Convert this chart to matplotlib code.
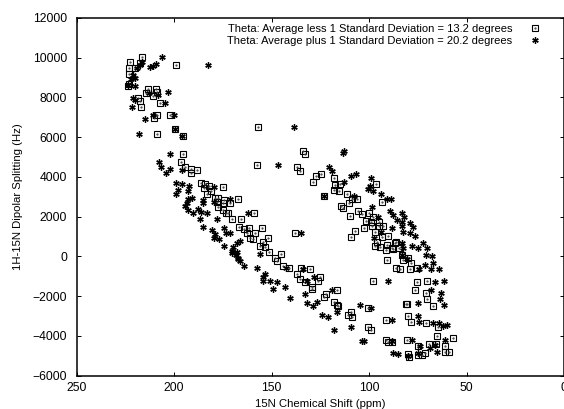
import matplotlib
matplotlib.use('Agg')
import matplotlib.pyplot as plt
from matplotlib.legend_handler import HandlerTuple

plt.rcParams['font.family'] = ['Liberation Sans', 'DejaVu Sans']

legend_low = 'Theta: Average less 1 Standard Deviation = 13.2 degrees'
legend_high = 'Theta: Average plus 1 Standard Deviation = 20.2 degrees'
x_ticks = [250, 200, 150, 100, 50, 0]
y_ticks = [-6000, -4000, -2000, 0, 2000, 4000, 6000, 8000, 10000, 12000]

# squares first
low_shift = [216.6, 222.6, 198.9, 223.1, 223.1, 220, 217.5, 213.2, 214.4, 209.3, 208.9, 211, 218.5, 217.5, 217,
             207.4, 208.6, 202.1, 210.5, 199.5, 208.8, 195.6, 157, 223.1, 223.5,
             195.4, 196.5, 194.4, 191.5, 191.5, 188.3, 186.2, 184.2, 182.1, 184.8, 181.1, 183.1, 174.8, 167.2,
             179, 177.3, 174.3, 171.2, 178.2, 174.8, 177.3, 174.8, 172.2, 173.4, 170.2, 165.7, 158.9, 157.3,
             166.6, 164, 161.4, 162.8, 158.5, 161.1, 159.4, 156,
             133.7, 132.7, 136.8, 135.6, 124.8, 127.2, 128.8, 123.1, 154.8, 138.2, 152,
             145.2, 154.3, 153.4, 151.2, 148.3, 147.1, 144, 141.1, 135, 130.2, 137.1, 135.4, 132.9, 129.1, 129.4,
             125.2, 126.1, 122.3, 123.1, 116.6, 118, 116.3,
             118, 114.9, 117.5, 118, 115.3, 111.5, 96.5, 93.4, 106.4, 108.9, 110.2, 114.4, 113.5, 105.5, 103.6,
             110, 99.9, 98.2, 101.7, 99, 94.9, 94.8, 93, 98.4, 102.5, 107.1, 109.5, 97, 90.5, 93.2, 96.1, 97, 91,
             86.4, 88.1, 84.7, 94.4,
             98.2, 75.6, 70.5, 76.5, 70.8, 70.3, 67.2, 81.2, 80.4, 91, 91.3, 87.9, 86.7, 83.3, 79.9, 86.2, 84.2,
             79, 78.7, 82.5, 75.6, 115.9, 109.3, 110.7, 108.6, 100.7, 100.7, 99, 91.3, 80, 78.5, 70.8, 64.5, 65,
             57.1, 91.3, 90.2, 88.4, 80.4, 74.8, 69.1, 65.7, 61.2, 59, 80, 75.1, 71.4, 73, 79.3, 60.8]
low_split = [10045, 9778, 9642, 9475, 9188, 9475, 9727, 8432, 8230, 8432, 8296, 8079, 7993, 7842, 7540,
             7726, 7106, 7137, 6955, 6416, 6164, 6048, 6532, 8684, 8583,
             5156, 4753, 4516, 4385, 4183, 4350, 3694, 3629, 3543, 3427, 3291, 3125, 3478, 2888,
             2923, 2923, 2838, 2701, 2752, 2671, 2500, 2334, 2197, 2167, 1895, 1880, 2197, 4602,
             1492, 1361, 1441, 1159, 1159, 907, 857, 519,
             5307, 5156, 4516, 4314, 4148, 4047, 3760, 3054, 1426, 1174, 907,
             131, 736, 484, 232, -101, -222, -489, -605, -605, -640, -907, -1144, -1280, -1532, -1663,
             -1028, -1245, -1885, -2066, -1683, -2318, -2454,
             3961, 3659, 3594, 3342, 3306, 3125, 3644, 2722, 2873, 2873, 2701, 2535, 2449, 2298, 2132,
             2016, 2167, 1996, 1779, 1744, 1714, 1527, 1527, 1527, 1411, 1290, 958, 1210, 1038, 973, 706, 534, 570,
             736, 403, 403, 454,
             -1230, -1295, -1230, -1683, -1835, -2167, -2490, -2389, -2389, -186, 318, 368, 655, 66, -101, -575, -655,
             -655, -323, -186, -605, -2505, -2792, -2943, -3059, -2591, -3578, -3699, -3226, -3024, -3326, -3362, -3578, -4002,
             -4118, -4218, -4304, -4304, -4234, -4506, -4435, -4435, -4521, -4808, -4924, -4974, -4889, -4974, -5060, -4808]

high_shift = [206.2, 182.6, 209.4, 212.4, 211, 216.5, 217.5, 218.9, 221.2, 220, 222.3, 223.5, 220, 203.3, 208.1,
              212.7, 221.2, 220, 221.6, 204.8, 199.9, 210.7, 215.1, 199.5, 217.8, 195.8,
              202.3, 207.7, 206.9, 204.2, 202, 196.1, 198.9, 196.1, 192.5, 192.7, 198.2, 199.2, 190.7, 192.7, 193.5,
              194.4, 192.7, 190.5, 187.9, 186.4, 183.1, 185, 185, 186.7, 179.7, 179.4, 177.8, 171.2, 162, 185, 180.7,
              179, 179.4, 176.8, 174.4, 173.5, 171.2, 174.4, 169.6, 167.9, 166.2, 170.5, 168.3, 167.1,
              138.7, 146.6, 120.4, 123.1, 135,
              155.8, 170.2, 167.9, 167.1, 166.2, 164, 157.3, 153.4, 154.6, 154.6, 150.8, 147.1, 149.4, 143.3, 140.6,
              142.6, 134.1, 128.3, 132, 132.9, 131.9, 126.9, 129, 124.3, 121.2, 118, 118.9, 116.6,
              113.5, 113, 119.2, 109.4, 106.7, 112.7, 99, 99.5, 100.4, 97.9, 94, 91, 88.9, 107.8, 98.7, 89.5, 87.6,
              83.3, 82.1, 85.9, 83.3, 83.3, 79, 77.6, 88.3, 95.3, 82.8, 79, 76.5, 93.9, 97.5, 72.2, 78.2, 75.1, 83.3,
              70.5, 82.5,
              70.9, 67.9, 67.1, 71.4, 68.3, 64, 74.3, 80.4, 83.3, 90.5, 61.4, 66.4, 68.3, 63.3, 63.5, 61.4, 75.1,
              104.7, 99, 109.3, 75.1, 88.4, 74.4, 67.1, 64.2, 61.9, 59.9, 103.8, 102.5, 88.4, 78.2, 73.9, 61.1, 87.9,
              85, 66.2, 65.3, 74.8, 79.9, 68.8]
high_split = [10030, 9642, 9692, 9556, 9590, 9778, 9642, 9475, 9138, 9001, 8936, 8634, 8583, 8296, 8130,
              8245, 7993, 7878, 7540, 7726, 7137, 7106, 6935, 6416, 6164, 6048,
              5156, 4738, 4486, 4213, 4385, 4365, 3709, 3629, 3543, 3306, 3342, 3140, 2923, 2873, 2671,
              2535, 2334, 2167, 2384, 2233, 2167, 2838, 2671, 1895, 3478, 2752, 1865, 2873, 2197, 1492, 1326,
              1124, 907, 872, 1426, 1189, 1159, 519, 484, 655, 786, 282, 66, -101,
              6532, 4602, 4516, 3054, 1174,
              131, 181, 232, -151, -222, -489, -605, -907, -1028, -1245, -1245, -1310, -1633, -1532, -2087,
              -605, -625, -1028, -1245, -1900, -2369, -2303, -2520, -2943, -3059, -3714, -1683, -2822,
              5221, 5300, 4314, 4047, 4133, 3730, 3961, 3543, 3377, 3306, 3125, 2873, 2903, 3054, 2500, 2298, 2097,
              2167, 1966, 1830, 1744, 1527, 1663, 1492, 1411, 1996, 1225, 1159, 1023, 1240, 937, 685, 519, 403, 655,
              403, 403,
              66, 15, -323, -438, -655, -640, -640, -136, 66, -1230, -1230, -1280, -1698, -1835, -2167, -2470, -2369,
              -2470, -2591, -3578, -3024, -3210, -3326, -3347, -3377, -3513, -3462, -4254, -4269, -4269, -4218, -4506, -4218, -4889,
              -4924, -4471, -4808, -4889, -5010, -4637]

fig = plt.figure(figsize=(5.64, 4.09), dpi=100)
ax = fig.add_axes([76.6 / 564, (409 - 375.5) / 409, (564 - 76.6) / 564, (375.5 - 18) / 409])

squares, = ax.plot(low_shift, low_split, linestyle='none', marker='s', markersize=4.6, markerfacecolor='none',
                   markeredgecolor='black', markeredgewidth=0.8)
dots, = ax.plot(low_shift, low_split, linestyle='none', marker='.', markersize=1.2, color='#444444')
stars, = ax.plot(high_shift, high_split, linestyle='none', marker=(6, 2, 0), markersize=4.6, color='black',
                 markeredgewidth=0.95)

ax.set_xlim(250, 0)
ax.set_ylim(-6000, 12000)
ax.set_xticks(x_ticks)
ax.set_yticks(y_ticks)
ax.tick_params(direction='in', length=3.2, width=0.7, top=True, right=True, labelsize=8.7, pad=5, colors='black')
ax.tick_params(axis='y', pad=7)
for side in ax.spines.values():
    side.set_linewidth(1.1)

ax.set_xlabel('15N Chemical Shift (ppm)', fontsize=8.2, labelpad=3)
ax.set_ylabel('1H-15N Dipolar Splitting (Hz)', fontsize=8.2, labelpad=7)

ax.legend([(squares, dots), stars], [legend_low, legend_high], loc='upper right', bbox_to_anchor=(0.974, 1.006),
          handler_map={tuple: HandlerTuple(ndivide=1, pad=0)}, frameon=False, markerfirst=False, alignment='right',
          fontsize=8.05, labelspacing=0.18, handletextpad=1.3, borderpad=0.2, handlelength=1.5)

fig.savefig('out.png', dpi=100)
